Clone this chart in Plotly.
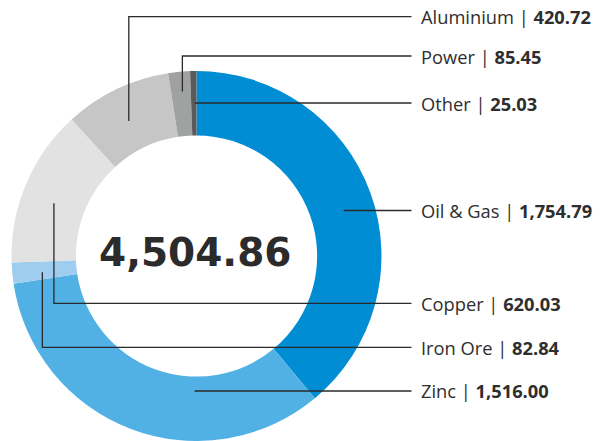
import math
import plotly.graph_objects as go

# ---- data ----
categories = ["Oil & Gas", "Zinc", "Iron Ore", "Copper", "Aluminium", "Power", "Other"]
values = [1754.79, 1516.00, 82.84, 620.03, 420.72, 85.45, 25.03]
colors = ["#008dd3", "#52b1e4", "#9ecdef", "#e2e2e2", "#c5c6c5", "#a0a2a1", "#5a5a5a"]

# ---- layout (window pixels) ----
W, H = 603, 441
CX, CY, R = 196.5, 256.0, 185.0
HOLE = 0.652
X_END = 411.5
X_TEXT = 419.0
TEXT_COLOR = "#2e2e2e"

# leader anchor tweaks: (radius px, angle offset deg, elbow label y or None for straight)
leader = {
    "Oil & Gas": (154, 2.7, None),
    "Zinc": (135, -20.0, None),
    "Iron Ore": (155, -0.7, 347.3),
    "Copper": (152, -2.5, 303.3),
    "Aluminium": (151, -1.0, 16.7),
    "Power": (165, 0.5, 56.0),
    "Other": (153, 0.4, None),
}


def px(x):
    return x / W


def py(y):
    return 1 - y / H


total = sum(values)

fig = go.Figure()
fig.add_trace(go.Pie(
    labels=categories, values=values, sort=False, direction="clockwise",
    rotation=0, hole=HOLE,
    marker=dict(colors=colors, line=dict(width=0)),
    textinfo="none", hoverinfo="label+value", showlegend=False,
    domain=dict(x=[px(CX - R), px(CX + R)], y=[max(0.0, py(CY + R)), py(CY - R)]),
))

shapes = []
annotations = []
cum = 0.0
for cat, v in zip(categories, values):
    a0 = cum / total * 360
    cum += v
    a1 = cum / total * 360
    r, dth, ly = leader[cat]
    th = math.radians((a0 + a1) / 2 + dth)
    sx = CX + r * math.sin(th)
    sy = CY - r * math.cos(th)
    if ly is None:
        ly = sy
        pts = [(sx, sy), (X_END, sy)]
    else:
        pts = [(sx, sy), (sx, ly), (X_END, ly)]
    path = "M " + " L ".join(f"{px(x):.5f},{py(y):.5f}" for x, y in pts)
    shapes.append(dict(type="path", path=path, xref="paper", yref="paper",
                       line=dict(color="#2a2a2a", width=1.3), layer="above"))
    annotations.append(dict(
        x=px(X_TEXT), y=py(ly), xref="paper", yref="paper",
        xanchor="left", yanchor="middle", showarrow=False,
        text=f"{cat} | <b>{v:,.2f}</b>",
        font=dict(family="Open Sans", size=18.3, color=TEXT_COLOR),
    ))

annotations.append(dict(
    x=px(195), y=py(252.7), xref="paper", yref="paper",
    xanchor="center", yanchor="middle", showarrow=False,
    text=f"<b>{total:,.2f}</b>",
    font=dict(family="DejaVu Sans", size=39, color="#2b2b2b"),
))

fig.update_layout(
    width=W, height=H, margin=dict(l=0, r=0, t=0, b=0),
    paper_bgcolor="white", plot_bgcolor="white",
    shapes=shapes, annotations=annotations,
)

fig.write_html(
    "out.html",
    config={"displayModeBar": False},
    post_script="document.body.style.margin='0';document.body.style.overflow='hidden';",
)
